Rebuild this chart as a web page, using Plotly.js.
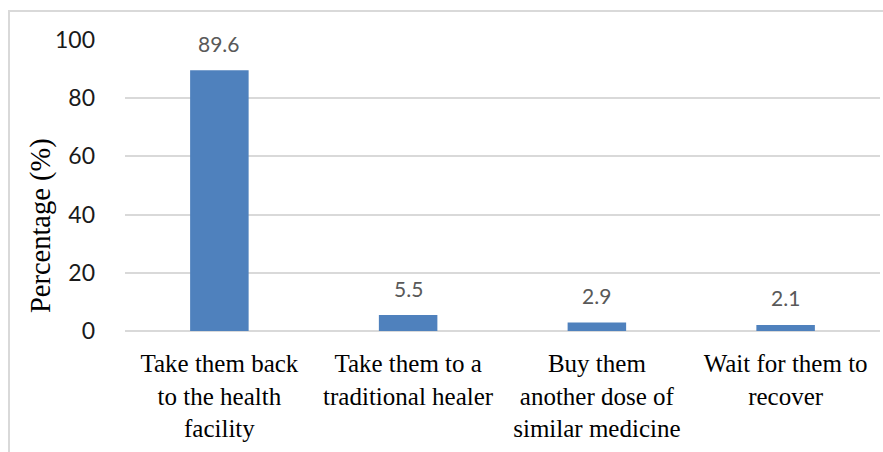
<!DOCTYPE html>
<html>
<head>
<meta charset="utf-8">
<script src="https://cdn.plot.ly/plotly-3.0.1.min.js"></script>
<style>
  html, body { margin: 0; padding: 0; background: #fff; overflow: hidden; }
  #wrap { position: relative; width: 883px; height: 452px; }
  #chart { position: absolute; left: 0; top: 0; width: 883px; height: 452px; }
  #frame {
    position: absolute; left: 8px; top: 10px; width: 1000px; height: 1000px;
    border-left: 2px solid #d9d9d9; border-top: 2px solid #d9d9d9;
    pointer-events: none;
  }
</style>
</head>
<body>
<div id="wrap">
  <div id="chart"></div>
  <div id="frame"></div>
</div>
<script>
// Responses: what respondents would do
const categories = [
  "Take them back<br>to the health<br>facility",
  "Take them to a<br>traditional healer",
  "Buy them<br>another dose of<br>similar medicine",
  "Wait for them to<br>recover"
];
const percentages = [89.6, 5.5, 2.9, 2.1];
const yTickValues = [0, 20, 40, 60, 80, 100];
const yTickLabels = ["0", "20", "40", "60", "80", "100"];
const yAxisLabel = "Percentage (%)";

const idx = categories.map((_, i) => i);

const trace = {
  type: "bar",
  x: idx,
  y: percentages,
  marker: { color: "#4f81bd" },
  hoverinfo: "none"
};

// value labels above each bar
const valueLabels = percentages.map((v, i) => ({
  x: i, y: v, xref: "x", yref: "y",
  text: v.toFixed(1),
  showarrow: false,
  yanchor: "middle",
  yshift: 27,
  font: { family: "Lato, 'Open Sans', sans-serif", size: 21, color: "#595959" }
}));

const titleAnno = {
  xref: "paper", yref: "paper",
  x: -0.112, y: 0.362,
  xanchor: "center", yanchor: "middle",
  text: yAxisLabel,
  textangle: -90,
  showarrow: false,
  font: { family: "'Liberation Serif', 'Times New Roman', serif", size: 28.5, color: "#000" }
};

const layout = {
  width: 883, height: 452,
  margin: { l: 125, r: 3, t: 40, b: 120.5 },
  paper_bgcolor: "#fff",
  plot_bgcolor: "#fff",
  showlegend: false,
  bargap: 0.69,
  xaxis: {
    tickmode: "array",
    tickvals: idx,
    ticktext: categories,
    tickangle: 0,
    range: [-0.5, categories.length - 0.5],
    showgrid: false,
    zeroline: false,
    showline: false,
    ticks: "",
    ticklabelstandoff: 15,
    tickfont: { family: "'Liberation Serif', 'Times New Roman', serif", size: 25, color: "#000" }
  },
  yaxis: {
    range: [0, 100],
    tickmode: "array",
    tickvals: yTickValues,
    ticktext: yTickLabels,
    showgrid: true,
    gridcolor: "#d9d9d9",
    gridwidth: 2,
    zeroline: true,
    zerolinecolor: "#d9d9d9",
    zerolinewidth: 2,
    showline: false,
    ticks: "",
    ticklabelstandoff: 29,
    tickfont: { family: "Lato, 'Open Sans', sans-serif", size: 23, color: "#1a1a1a" }
  },
  annotations: valueLabels.concat([titleAnno])
};

Plotly.newPlot("chart", [trace], layout, { displayModeBar: false, staticPlot: true });
</script>
</body>
</html>
